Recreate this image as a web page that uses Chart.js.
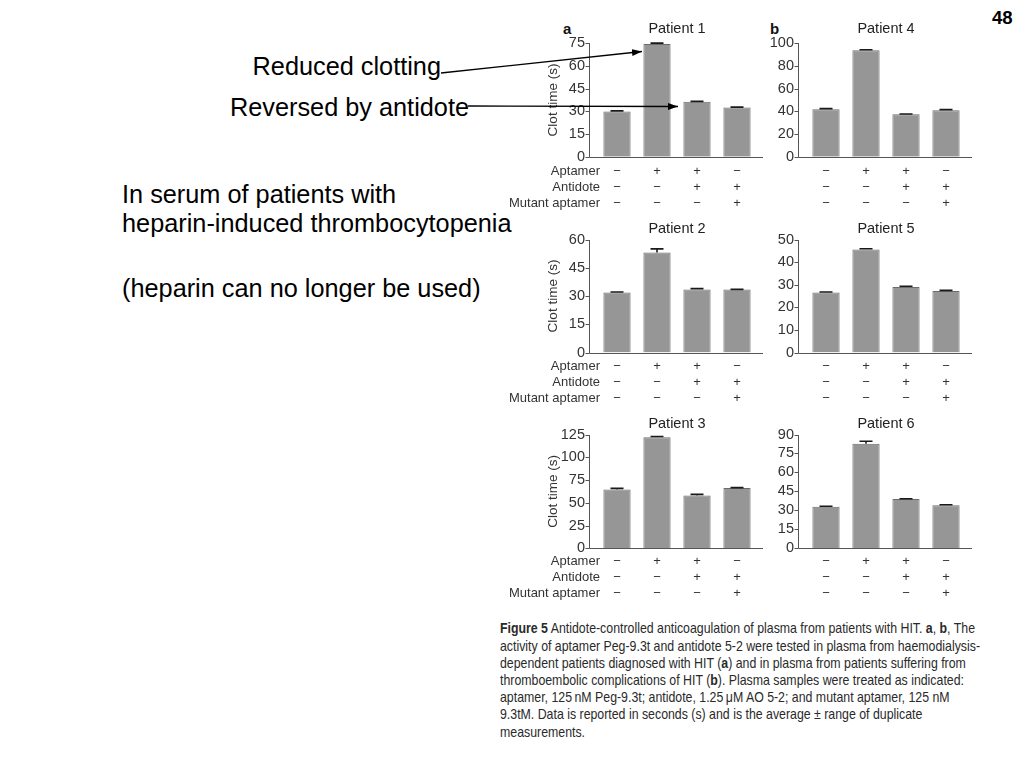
<!DOCTYPE html>
<html><head><meta charset="utf-8">
<script src="https://cdn.jsdelivr.net/npm/chart.js@4"></script>
<style>
html,body{margin:0;padding:0;background:#fff;}
#wrap{position:relative;width:1024px;height:768px;overflow:hidden;background:#fff;font-family:'Liberation Sans',Arial,sans-serif;}
canvas{position:absolute;}
.big{position:absolute;font-size:25.3px;line-height:1;white-space:nowrap;color:#000;}
.lbl{position:absolute;font-weight:bold;font-size:15px;line-height:1;color:#111;}
#caption{position:absolute;left:500px;top:620.4px;font-family:'Liberation Sans Narrow','Liberation Sans',Arial,sans-serif;font-size:14.8px;line-height:17.2px;color:#2a2a2a;white-space:nowrap;transform-origin:0 0;}
#caption div{white-space:nowrap;}
#caption span.l{display:inline-block;}
</style></head><body>
<div id="wrap">
  <div class="big" style="right:583px;top:54.1px;">Reduced clotting</div>
  <div class="big" style="right:555px;top:94.6px;">Reversed by antidote</div>
  <div class="big" style="left:122px;top:181.6px;">In serum of patients with</div>
  <div class="big" style="left:122px;top:211.1px;">heparin-induced thrombocytopenia</div>
  <div class="big" style="left:122px;top:275.9px;">(heparin can no longer be used)</div>
  <div class="lbl" style="left:992px;top:9.3px;font-size:18.6px;color:#000;">48</div>
  <div class="lbl" style="left:563px;top:20.6px;">a</div>
  <div class="lbl" style="left:770px;top:20.6px;">b</div>

  <canvas id="c1" width="270" height="205" style="left:500px;top:10px;width:270px;height:205px;"></canvas>
  <canvas id="c4" width="210" height="205" style="left:770px;top:10px;width:210px;height:205px;"></canvas>
  <canvas id="c2" width="270" height="195" style="left:500px;top:215px;width:270px;height:195px;"></canvas>
  <canvas id="c5" width="210" height="195" style="left:770px;top:215px;width:210px;height:195px;"></canvas>
  <canvas id="c3" width="270" height="200" style="left:500px;top:410px;width:270px;height:200px;"></canvas>
  <canvas id="c6" width="210" height="200" style="left:770px;top:410px;width:210px;height:200px;"></canvas>

  <div id="caption">
    <div><span class="l" id="cl1"><b>Figure 5</b> Antidote-controlled anticoagulation of plasma from patients with HIT. <b>a</b>, <b>b</b>, The</span></div>
    <div>activity of aptamer Peg-9.3t and antidote 5-2 were tested in plasma from haemodialysis-</div>
    <div>dependent patients diagnosed with HIT (<b>a</b>) and in plasma from patients suffering from</div>
    <div>thromboembolic complications of HIT (<b>b</b>). Plasma samples were treated as indicated:</div>
    <div>aptamer, 125&#8201;nM Peg-9.3t; antidote, 1.25&#8201;μM AO 5-2; and mutant aptamer, 125 nM</div>
    <div>9.3tM. Data is reported in seconds (s) and is the average ± range of duplicate</div>
    <div>measurements.</div>
  </div>

  <svg width="1024" height="768" style="position:absolute;left:0;top:0;pointer-events:none;">
    <defs>
      <marker id="ah" markerWidth="10" markerHeight="8" refX="10" refY="4" orient="auto" markerUnits="userSpaceOnUse">
        <path d="M0,0.5 L10,4 L0,7.5 z" fill="#000"/>
      </marker>
    </defs>
    <line x1="441" y1="73" x2="642" y2="51.5" stroke="#000" stroke-width="1.3" marker-end="url(#ah)"/>
    <line x1="468" y1="106" x2="678" y2="106.5" stroke="#000" stroke-width="1.3" marker-end="url(#ah)"/>
  </svg>
</div>
<script>
// ---- data ----
const conditions = ['Aptamer', 'Antidote', 'Mutant aptamer'];
const aptamer  = ['\u2212', '+', '+', '\u2212'];
const antidote = ['\u2212', '\u2212', '+', '+'];
const mutant   = ['\u2212', '\u2212', '\u2212', '+'];

const patient1 = [29.9, 74.5, 36.3, 32.6];
const patient1Err = [0.4, 0.6, 0.3, 0.2];
const patient2 = [31.8, 53.1, 33.5, 33.4];
const patient2Err = [0.3, 1.9, 0.4, 0.1];
const patient3 = [64.6, 122.0, 58.0, 66.2];
const patient3Err = [1.2, 0.8, 1.2, 0.4];
const patient4 = [41.8, 93.8, 37.4, 40.9];
const patient4Err = [0.6, 0.5, 0.3, 0.6];
const patient5 = [26.6, 45.6, 29.0, 27.2];
const patient5Err = [0.2, 0.3, 0.3, 0.3];
const patient6 = [32.8, 82.7, 39.0, 34.1];
const patient6Err = [0.4, 2.0, 0.2, 0.3];

const yMax1 = 75,  yStep1 = 15;
const yMax2 = 60,  yStep2 = 15;
const yMax3 = 125, yStep3 = 25;
const yMax4 = 100, yStep4 = 20;
const yMax5 = 50,  yStep5 = 10;
const yMax6 = 90,  yStep6 = 15;

Chart.defaults.font.family = "'Liberation Sans', Arial, sans-serif";

const sciAxes = {
  id: 'sciAxes',
  afterDraw(chart, args, opts) {
    const {ctx, chartArea: ca, scales: {x, y}} = chart;
    const ax = Math.round(ca.left - 8) + 0.5;
    const y0 = Math.round(y.getPixelForValue(0)) + 0.5;
    ctx.save();
    ctx.strokeStyle = '#555';
    ctx.lineWidth = 1;
    ctx.beginPath();
    ctx.moveTo(ax, Math.round(y.getPixelForValue(y.max)));
    ctx.lineTo(ax, y0);
    ctx.moveTo(ax, y0);
    ctx.lineTo(ca.right + 6, y0);
    y.ticks.forEach(t => {
      const py = Math.round(y.getPixelForValue(t.value)) + 0.5;
      ctx.moveTo(ax - 4, py); ctx.lineTo(ax, py);
    });
    ctx.stroke();
    const meta = chart.getDatasetMeta(0);
    const vals = chart.data.datasets[0].data;
    ctx.strokeStyle = '#1a1a1a';
    ctx.lineWidth = 1.6;
    meta.data.forEach((bar, i) => {
      const e = opts.errors[i];
      const top = y.getPixelForValue(vals[i] + e);
      const base = y.getPixelForValue(vals[i]);
      ctx.beginPath();
      ctx.moveTo(bar.x, base); ctx.lineTo(bar.x, top);
      ctx.moveTo(bar.x - 6.5, top); ctx.lineTo(bar.x + 6.5, top);
      ctx.stroke();
    });
    if (opts.rowNames) {
      ctx.fillStyle = '#333';
      ctx.font = "13px 'Liberation Sans', Arial, sans-serif";
      ctx.textAlign = 'right';
      ctx.textBaseline = 'middle';
      opts.rowNames.forEach((n, i) => ctx.fillText(n, ca.left + 3, x.top + opts.rowPad + 16 * (i + 0.5)));
    }
    ctx.restore();
  }
};

const rowGeo = [
  {titleTop: 10.3, titleBottom: 5.6, xH: 58.3, labelPad: 6.3},
  {titleTop: 5.3,  titleBottom: 1.8, xH: 57.5, labelPad: 6.2},
  {titleTop: 5.0,  titleBottom: 2.1, xH: 61.7, labelPad: 5.4}
];
const colGeo = [
  {yW: 97, padRight: 13},
  {yW: 36, padRight: 14}
];

function panel(id, title, values, errors, yMax, yStep, row, col) {
  const g = Object.assign({}, rowGeo[row], colGeo[col]);
  const showNames = col === 0;
  const labels = aptamer.map((a, i) => [aptamer[i], antidote[i], mutant[i]]);
  return new Chart(document.getElementById(id), {
    type: 'bar',
    data: {labels, datasets: [{data: values, backgroundColor: '#969696', borderColor: '#6c6c6c',
      borderWidth: 1, barPercentage: 0.68, categoryPercentage: 1}]},
    options: {
      responsive: false, animation: false, devicePixelRatio: 1,
      layout: {padding: {left: 0, right: g.padRight, top: 0, bottom: 0}},
      plugins: {
        legend: {display: false}, tooltip: {enabled: false},
        title: {display: true, text: title, fullSize: false, color: '#222',
          font: {size: 14.5, weight: 'normal'}, padding: {top: g.titleTop, bottom: g.titleBottom}},
        sciAxes: {errors, rowNames: showNames ? conditions : null, rowPad: g.labelPad}
      },
      scales: {
        x: {grid: {display: false, drawTicks: false}, border: {display: false},
          ticks: {padding: g.labelPad, color: '#333', font: {size: 13, lineHeight: 16 / 13}, maxRotation: 0, autoSkip: false},
          afterFit: s => { s.height = g.xH; }},
        y: {min: 0, max: yMax, grid: {display: false, drawTicks: false}, border: {display: false},
          ticks: {stepSize: yStep, padding: 12, color: '#333', font: {size: 14.5}, autoSkip: false},
          title: {display: showNames, text: 'Clot time (s)', color: '#333', font: {size: 13.5}, padding: {top: 45, bottom: 0}},
          afterFit: s => { s.width = g.yW; }}
      }
    },
    plugins: [sciAxes]
  });
}

panel('c1', 'Patient 1', patient1, patient1Err, yMax1, yStep1, 0, 0);
panel('c2', 'Patient 2', patient2, patient2Err, yMax2, yStep2, 1, 0);
panel('c3', 'Patient 3', patient3, patient3Err, yMax3, yStep3, 2, 0);
panel('c4', 'Patient 4', patient4, patient4Err, yMax4, yStep4, 0, 1);
panel('c5', 'Patient 5', patient5, patient5Err, yMax5, yStep5, 1, 1);
panel('c6', 'Patient 6', patient6, patient6Err, yMax6, yStep6, 2, 1);

const cl1 = document.getElementById('cl1');
const sx = 475 / cl1.getBoundingClientRect().width;
document.getElementById('caption').style.transform = 'scaleX(' + sx + ')';
</script>
</body></html>
